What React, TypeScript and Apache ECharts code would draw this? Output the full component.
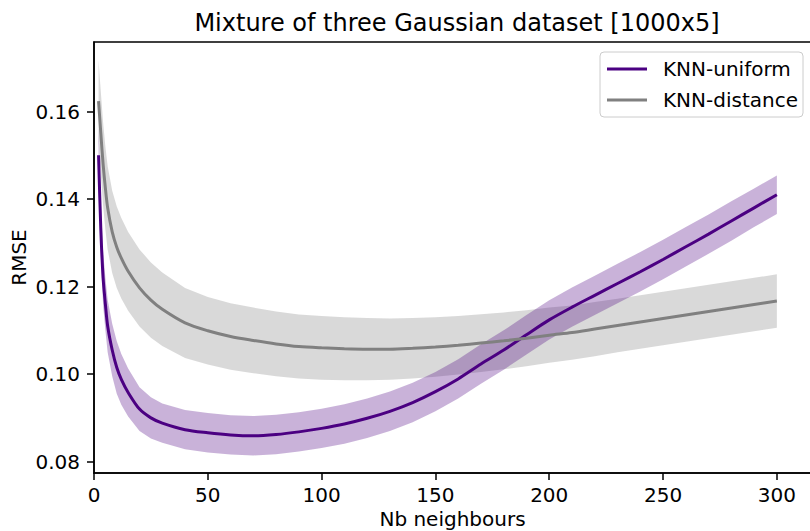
import React, { useEffect, useRef } from "react";
import * as echarts from "echarts";

const FONT = "DejaVu Sans";

const kValues = [2, 3, 4, 5, 6, 8, 10, 12, 15, 20, 25, 30, 40, 50, 60, 70, 80, 90, 100,
  110, 120, 130, 140, 150, 160, 170, 180, 190, 200, 210, 220, 230, 240, 250, 260, 270, 280, 290, 300];

const uniformMean = [0.150, 0.133, 0.122, 0.116, 0.111, 0.1055, 0.1015, 0.0988, 0.0958, 0.0920,
  0.0900, 0.0888, 0.0873, 0.0866, 0.0861, 0.0859, 0.0862, 0.0868, 0.0876,
  0.0886, 0.0899, 0.0915, 0.0935, 0.0960, 0.0989, 0.1023, 0.1055, 0.1090, 0.1124,
  0.1153, 0.1180, 0.1207, 0.1234, 0.1262, 0.1291, 0.1320, 0.1350, 0.1380, 0.1410];

const uniformHalf = [0.0065, 0.0063, 0.0062, 0.006, 0.006, 0.006, 0.006, 0.0058, 0.0055, 0.005,
  0.0047, 0.0045, 0.0045, 0.0045, 0.0045, 0.0045, 0.0045, 0.0045, 0.0045,
  0.0045, 0.0045, 0.0045, 0.0045, 0.0045, 0.0045, 0.0045, 0.0045, 0.0045, 0.0045,
  0.0045, 0.0045, 0.0045, 0.0045, 0.0045, 0.0045, 0.0045, 0.0045, 0.0044, 0.0044];

const distanceMean = [0.1624, 0.155, 0.148, 0.1425, 0.138, 0.1325, 0.129, 0.1265, 0.1235, 0.1197,
  0.1169, 0.1148, 0.1117, 0.1099, 0.1086, 0.1077, 0.1069, 0.1063, 0.1060,
  0.1058, 0.1057, 0.1057, 0.1059, 0.1062, 0.1066, 0.1071, 0.1076, 0.1082, 0.1089,
  0.1095, 0.1103, 0.1111, 0.1119, 0.1127, 0.1135, 0.1143, 0.1151, 0.1159, 0.1167];

const distanceHalf = [0.0093, 0.0095, 0.0095, 0.0095, 0.0095, 0.0094, 0.0093, 0.0092, 0.0090, 0.0088,
  0.0086, 0.0084, 0.008, 0.0077, 0.0076, 0.0075, 0.0074, 0.0073, 0.0073,
  0.0072, 0.0071, 0.007, 0.0069, 0.0068, 0.0067, 0.0066, 0.0065, 0.0064, 0.0063,
  0.0062, 0.0062, 0.0061, 0.0061, 0.0061, 0.0061, 0.0061, 0.0061, 0.0061, 0.0061];

const xTicks = [0, 50, 100, 150, 200, 250, 300];
const yTicks = [0.08, 0.10, 0.12, 0.14, 0.16];

const UNIFORM_COLOR = "#4b0082";
const DISTANCE_COLOR = "#808080";

export default function App() {
  const ref = useRef<HTMLDivElement>(null);
  useEffect(() => {
    document.body.style.margin = "0";
    const chart = echarts.init(ref.current!, null, { renderer: "svg" });
    const pairs = (ys: number[]) => kValues.map((k, i) => [k, ys[i]]);

    const band = (name: string, m: number[], h: number[], color: string) => ({
      type: "custom",
      name,
      silent: true,
      clip: true,
      z: 1,
      data: [[150, 0.1]],
      renderItem: (_params: any, api: any) => {
        const up = kValues.map((k, i) => api.coord([k, m[i] + h[i]]));
        const lo = kValues.map((k, i) => api.coord([k, m[i] - h[i]])).reverse();
        return {
          type: "polygon",
          shape: { points: up.concat(lo) },
          style: { fill: color, opacity: 0.3 },
        };
      },
    });

    chart.setOption({
      animation: false,
      title: {
        text: "Mixture of three Gaussian dataset [1000x5]",
        left: 452, top: 6, textAlign: "center",
        textStyle: { fontFamily: FONT, fontSize: 24, fontWeight: "normal", color: "#000" },
      },
      grid: {
        left: 94, top: 42, width: 717, height: 431, show: true,
        borderColor: "#000", borderWidth: 1.5, outerBoundsMode: "none", containLabel: false,
      },
      legend: {
        data: ["KNN-uniform", "KNN-distance"],
        orient: "vertical", left: 600, top: 52,
        itemWidth: 40, itemHeight: 3, itemGap: 11, icon: "rect",
        padding: [7, 5, 7, 7],
        borderColor: "#cccccc", borderWidth: 1, borderRadius: 4,
        backgroundColor: "rgba(255,255,255,0.8)",
        textStyle: { fontFamily: FONT, fontSize: 20, color: "#000", padding: [0, 0, 0, 11] },
      },
      xAxis: {
        type: "value", min: 0, max: 315,
        name: "Nb neighbours", nameLocation: "middle", nameGap: 36, nameMoveOverlap: false,
        nameTextStyle: { fontFamily: FONT, fontSize: 20, lineHeight: 20, color: "#000" },
        splitLine: { show: false },
        axisLine: { show: true, lineStyle: { color: "#000", width: 1.5 } },
        axisTick: { show: true, length: 7, customValues: xTicks, lineStyle: { color: "#000", width: 1.5 } },
        axisLabel: { customValues: xTicks, margin: 12, fontFamily: FONT, fontSize: 20, lineHeight: 20, color: "#000" },
      },
      yAxis: {
        type: "value", min: 0.0774, max: 0.1759,
        name: "RMSE", nameLocation: "middle", nameGap: 65, nameMoveOverlap: false,
        nameTextStyle: { fontFamily: FONT, fontSize: 20, color: "#000" },
        splitLine: { show: false },
        axisLine: { show: true, lineStyle: { color: "#000", width: 1.5 } },
        axisTick: { show: true, length: 7, customValues: yTicks, lineStyle: { color: "#000", width: 1.5 } },
        axisLabel: {
          customValues: yTicks, margin: 14, fontFamily: FONT, fontSize: 20, color: "#000",
          formatter: (v: number) => v.toFixed(2),
        },
      },
      series: [
        band("dist-band", distanceMean, distanceHalf, DISTANCE_COLOR),
        band("unif-band", uniformMean, uniformHalf, UNIFORM_COLOR),
        {
          type: "line", name: "KNN-uniform", data: pairs(uniformMean), color: UNIFORM_COLOR,
          symbol: "none", smooth: 0.3,
          lineStyle: { color: UNIFORM_COLOR, width: 3 }, z: 3,
        },
        {
          type: "line", name: "KNN-distance", data: pairs(distanceMean), color: DISTANCE_COLOR,
          symbol: "none", smooth: 0.3,
          lineStyle: { color: DISTANCE_COLOR, width: 3 }, z: 3,
        },
      ],
    });
    return () => chart.dispose();
  }, []);
  return <div ref={ref} style={{ width: 810, height: 531, position: "absolute", left: 0, top: 0 }} />;
}
